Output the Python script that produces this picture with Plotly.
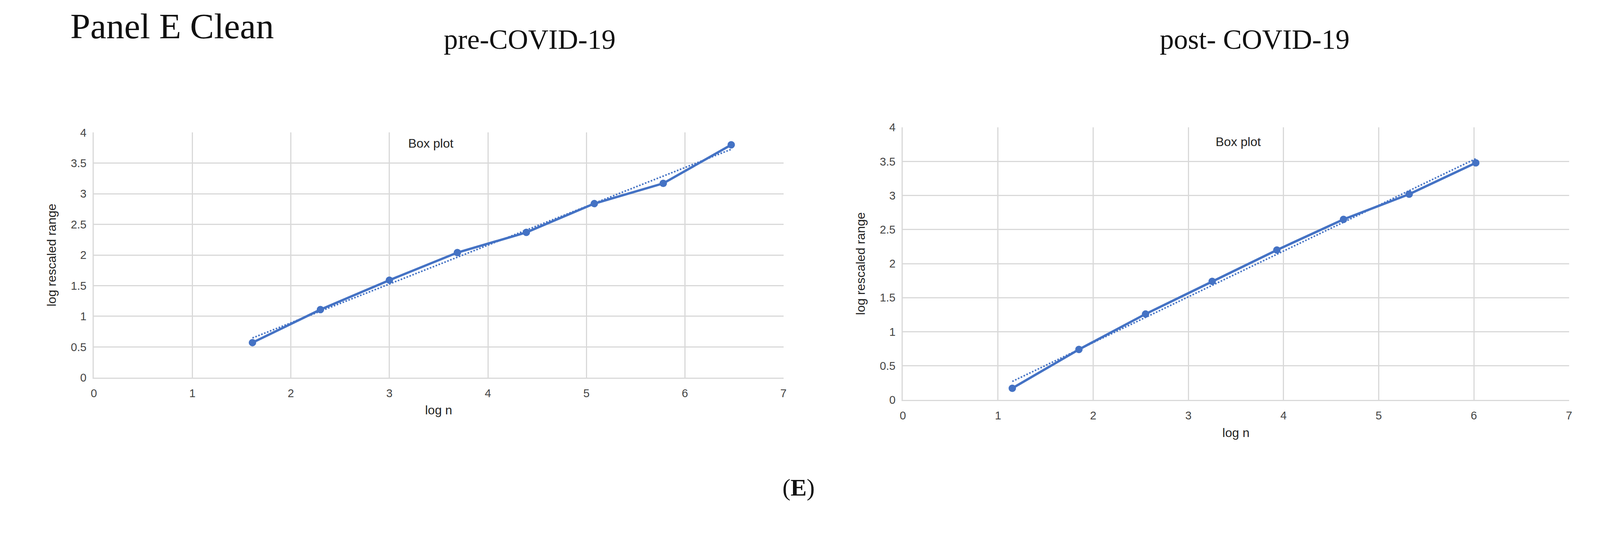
import numpy as np
import plotly.graph_objects as go

pre_x = [1.61, 2.30, 3.00, 3.69, 4.39, 5.08, 5.78, 6.47]
pre_y = [0.57, 1.11, 1.59, 2.04, 2.37, 2.84, 3.17, 3.80]
post_x = [1.15, 1.85, 2.55, 3.25, 3.93, 4.63, 5.32, 6.02]
post_y = [0.17, 0.74, 1.26, 1.74, 2.20, 2.65, 3.02, 3.48]

RW, RH = 4379, 1393
K = 0.935
W, H = int(RW * K) - 16, int(RH * K) - 16
C = "#4472C4"

def px(x):  # reference x px -> paper fraction
    return (x * K - 8) / W
def py(y):
    return 1 - (y * K - 8) / H

fig = go.Figure()

def add(xs, ys, xa, ya):
    fig.add_trace(go.Scatter(x=xs, y=ys, xaxis=xa, yaxis=ya, mode="lines+markers",
                             line=dict(color=C, width=6), marker=dict(size=19, color=C), showlegend=False))
    a, b = np.polyfit(xs, ys, 1)
    tx = [xs[0], xs[-1]]
    fig.add_trace(go.Scatter(x=tx, y=[a*t+b for t in tx], xaxis=xa, yaxis=ya, mode="lines",
                             line=dict(color=C, width=4, dash="dot"), showlegend=False))

add(pre_x, pre_y, "x", "y")
add(post_x, post_y, "x2", "y2")

sans = "Liberation Sans Narrow, Liberation Sans"
tick = dict(family=sans, size=29, color="#444")
def ax(dom, anchor, isx, title):
    return dict(domain=dom, anchor=anchor, range=[0, 7] if isx else [0, 4],
                showgrid=True, gridcolor="#d9d9d9", gridwidth=3, zeroline=False, automargin=False,
                showline=True, linecolor="#d9d9d9", linewidth=3, tickfont=tick,
                dtick=1 if isx else 0.5, ticklabelstandoff=12 if isx else 10,
                title=dict(text=title, font=dict(family=sans, size=32, color="#222"),
                           standoff=18 if isx else 28))

fig.update_layout(
    width=W, height=H, autosize=False, paper_bgcolor="white", plot_bgcolor="white",
    margin=dict(l=0, r=0, t=0, b=0, autoexpand=False),
    xaxis=ax([px(257), px(2145)], "y", True, "log n"),
    yaxis=ax([py(1034), py(363)], "x", False, "log rescaled range"),
    xaxis2=ax([px(2472), px(4296)], "y2", True, "log n"),
    yaxis2=ax([py(1095), py(349)], "x2", False, "log rescaled range"),
)
serif = "Liberation Serif"
ann = [
    dict(text="Panel E Clean", x=px(190), y=py(72), xanchor="left", font=dict(family=serif, size=92, color="#111")),
    dict(text="pre-COVID-19", x=px(1450), y=py(108), font=dict(family=serif, size=72, color="#111")),
    dict(text="post- COVID-19", x=px(3435), y=py(108), font=dict(family=serif, size=72, color="#111")),
    dict(text="Box plot", x=px(1180), y=py(393), font=dict(family=sans, size=32, color="#222")),
    dict(text="Box plot", x=px(3390), y=py(388), font=dict(family=sans, size=32, color="#222")),
    dict(text="(<b>E</b>)", x=px(2187), y=py(1335), font=dict(family=serif, size=62, color="#111")),
]
for a in ann:
    a.update(xref="paper", yref="paper", showarrow=False, yanchor="middle")
    a.setdefault("xanchor", "center")
fig.update_layout(annotations=ann)
fig.write_html("out.html", config={"responsive": False})
